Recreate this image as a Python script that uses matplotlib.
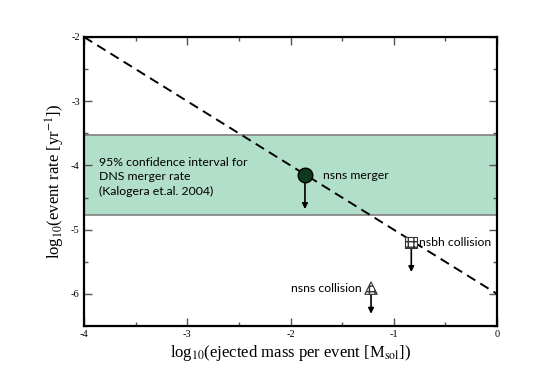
import matplotlib
matplotlib.use("Agg")
import matplotlib.pyplot as plt

plt.rcParams["mathtext.fontset"] = "stix"
plt.rcParams["axes.unicode_minus"] = False

# model line: rate vs ejected mass
line_x = [-4, 0]
line_y = [-2, -6]

# DNS merger rate confidence band
band_lo = -4.77
band_hi = -3.53

# upper limits (point, arrow end)
names = ["nsns merger", "nsbh collision", "nsns collision"]
pt_x = [-1.86, -0.83, -1.22]
pt_y = [-4.15, -5.20, -5.91]
arrow_end = [-4.68, -5.66, -6.31]

x_ticks = [-4, -3, -2, -1, 0]
y_ticks = [-6, -5, -4, -3, -2]

serif = "Liberation Serif"
sans = "Lato"

fig = plt.figure(figsize=(5.45, 3.85), dpi=100)
ax = fig.add_axes([84 / 545, 1 - 326 / 385, 413 / 545, 289 / 385])

ax.axhspan(band_lo, band_hi, facecolor="#b2dfca", edgecolor="#808080", lw=1.2, zorder=1)
ax.plot(line_x, line_y, color="black", ls=(0, (5, 3)), lw=1.4, zorder=2)

for x, y, y2 in zip(pt_x, pt_y, arrow_end):
    ax.annotate("", xy=(x, y2), xytext=(x, y),
                arrowprops=dict(arrowstyle="-|>", color="black", lw=1.2,
                                mutation_scale=8, shrinkA=0, shrinkB=0), zorder=3)

ax.scatter(pt_x[0], pt_y[0], s=110, marker="o", color="#0d3a1f", edgecolor="black", zorder=4)
ax.scatter(pt_x[1], pt_y[1], s=70, marker="s", facecolor="white", edgecolor="#333333",
           hatch="+++", lw=0.8, zorder=4)
ax.scatter(pt_x[2], pt_y[2], s=80, marker="^", facecolor="white", edgecolor="#333333",
           hatch="+++", lw=0.8, zorder=4)

fs = 8.8
ax.text(pt_x[0] + 0.17, pt_y[0], names[0], fontsize=fs, family=sans, va="center", ha="left")
ax.text(pt_x[1] + 0.07, pt_y[1], names[1], fontsize=fs, family=sans, va="center", ha="left")
ax.text(pt_x[2] - 0.09, pt_y[2], names[2], fontsize=fs, family=sans, va="center", ha="right")
ax.text(-3.85, -4.18, "95% confidence interval for\nDNS merger rate\n(Kalogera et.al. 2004)",
        fontsize=fs, family=sans, va="center", ha="left", linespacing=1.4)

ax.set_xlim(-4, 0)
ax.set_ylim(-6.5, -2)
ax.set_xticks(x_ticks)
ax.set_yticks(y_ticks)
ax.set_xticks([-3.5, -2.5, -1.5, -0.5], minor=True)
ax.set_yticks([-6.5, -5.5, -4.5, -3.5, -2.5], minor=True)
ax.tick_params(which="both", direction="in", top=True, right=True, width=1, color="#555555")
ax.tick_params(which="major", length=6, labelsize=7.5, pad=3)
ax.tick_params(which="minor", length=3)
for lab in ax.get_xticklabels() + ax.get_yticklabels():
    lab.set_family(serif)
for s in ax.spines.values():
    s.set_linewidth(1.6)

ax.set_xlabel(r"log$_{10}$(ejected mass per event [M$_{\rm sol}$])", fontsize=12, family=serif, labelpad=3)
ax.set_ylabel(r"log$_{10}$(event rate [yr$^{-1}$])", fontsize=12, family=serif, labelpad=3)

fig.savefig("out.png", dpi=100)
